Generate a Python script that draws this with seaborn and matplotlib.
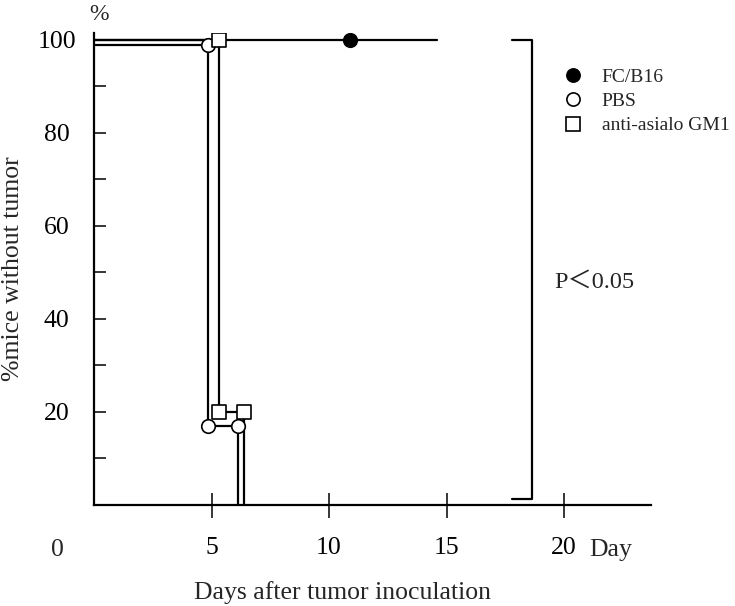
import pandas as pd
import matplotlib.pyplot as plt
import seaborn as sns
from matplotlib.lines import Line2D
from matplotlib.ticker import MultipleLocator

# survival steps (day of drop, % left afterwards)
fc_days = [0, 14.6]
fc_pct = [100, 100]
fc_mark_days = [10.9]
fc_mark_pct = [100]

pbs_days = [0, 4.85, 6.12]
pbs_pct = [99, 17, 0]
pbs_mark_days = [4.85, 4.85, 6.12]
pbs_mark_pct = [99, 17, 17]

nk_days = [0, 5.3, 6.37]
nk_pct = [100, 20, 0]
nk_mark_days = [5.3, 5.3, 6.37]
nk_mark_pct = [100, 20, 20]

x_ticks = [5, 10, 15, 20]
y_major = [20, 40, 60, 80, 100]

# significance bracket
bracket_x = [17.8, 18.65, 18.65, 17.8]
bracket_y = [100, 100, 1.3, 1.3]

sns.set_theme(style="ticks")
plt.rcParams['font.family'] = ['Liberation Serif', 'Noto Sans CJK JP', 'DejaVu Sans']

fig = plt.figure(figsize=(7.35, 6.06), dpi=100)
ax = fig.add_axes([94 / 735, 101 / 606, 557 / 735, 472 / 606])

lines = pd.concat([
    pd.DataFrame({"day": fc_days, "pct": fc_pct, "group": "FC/B16"}),
    pd.DataFrame({"day": pbs_days, "pct": pbs_pct, "group": "PBS"}),
    pd.DataFrame({"day": nk_days, "pct": nk_pct, "group": "anti-asialo GM1"}),
])
for g, sub in lines.groupby("group", sort=False):
    sns.lineplot(data=sub, x="day", y="pct", ax=ax, color="black", lw=1.6,
                 estimator=None, drawstyle="steps-post", legend=False)

marks = pd.concat([
    pd.DataFrame({"day": fc_mark_days, "pct": fc_mark_pct, "group": "FC/B16"}),
    pd.DataFrame({"day": pbs_mark_days, "pct": pbs_mark_pct, "group": "PBS"}),
    pd.DataFrame({"day": nk_mark_days, "pct": nk_mark_pct, "group": "anti-asialo GM1"}),
])
styles = {"FC/B16": ("o", "black"), "PBS": ("o", "white"), "anti-asialo GM1": ("s", "white")}
for g, sub in marks.groupby("group", sort=False):
    m, fc = styles[g]
    sns.scatterplot(data=sub, x="day", y="pct", ax=ax, marker=m, s=95,
                    color=fc, edgecolor="black", linewidth=1.2, zorder=5, legend=False)

ax.plot(bracket_x, bracket_y, color="black", lw=1.6)
ax.text(19.6, 48, "P＜0.05", fontsize=17.5, va="center", ha="left")

ax.set_xlim(0, 23.7)
ax.set_ylim(0, 101.5)
sns.despine(ax=ax)
for s in ["left", "bottom"]:
    ax.spines[s].set_linewidth(1.6)
    ax.spines[s].set_color("black")

ax.set_xticks(x_ticks)
ax.set_xticklabels([str(t) for t in x_ticks], fontsize=18.5)
ax.tick_params(axis="x", direction="inout", length=18, width=1.1, pad=14, colors="black")
ax.set_yticks(y_major)
ax.set_yticklabels([str(t) for t in y_major], fontsize=18.5, ha="center")
ax.yaxis.set_minor_locator(MultipleLocator(10))
ax.tick_params(axis="y", which="both", direction="in", length=8.5, width=1.1, pad=27, colors="black")

# corner origin label and unit labels
ax.text(-1.55, -0.072, "0", transform=ax.get_xaxis_transform(), fontsize=18.5,
        ha="center", va="top")
ax.text(22.0, -0.072, "Day", transform=ax.get_xaxis_transform(), fontsize=18.5,
        ha="center", va="top")
ax.text(0.009, 1.04, "%", transform=ax.transAxes, fontsize=17, ha="center", va="center")

ax.set_xlabel("Days after tumor inoculation", fontsize=18.5)
ax.xaxis.set_label_coords(0.447, -0.16)
ax.set_ylabel("%mice without tumor", fontsize=18.5)
ax.yaxis.set_label_coords(-0.125, 0.5)

handles = [
    Line2D([], [], ls="none", marker="o", ms=9.5, mfc="black", mec="black", mew=1.2),
    Line2D([], [], ls="none", marker="o", ms=9.5, mfc="white", mec="black", mew=1.2),
    Line2D([], [], ls="none", marker="s", ms=9.5, mfc="white", mec="black", mew=1.2),
]
ax.legend(handles, ["FC/B16", "PBS", "anti-asialo GM1"], loc="upper left",
          bbox_to_anchor=(563 / 735, 1 - 68 / 606), bbox_transform=fig.transFigure,
          frameon=False, fontsize=14, handlelength=1.0, handletextpad=1.0,
          labelspacing=0.35, borderpad=0, borderaxespad=0)

fig.savefig("out.png", dpi=100)
